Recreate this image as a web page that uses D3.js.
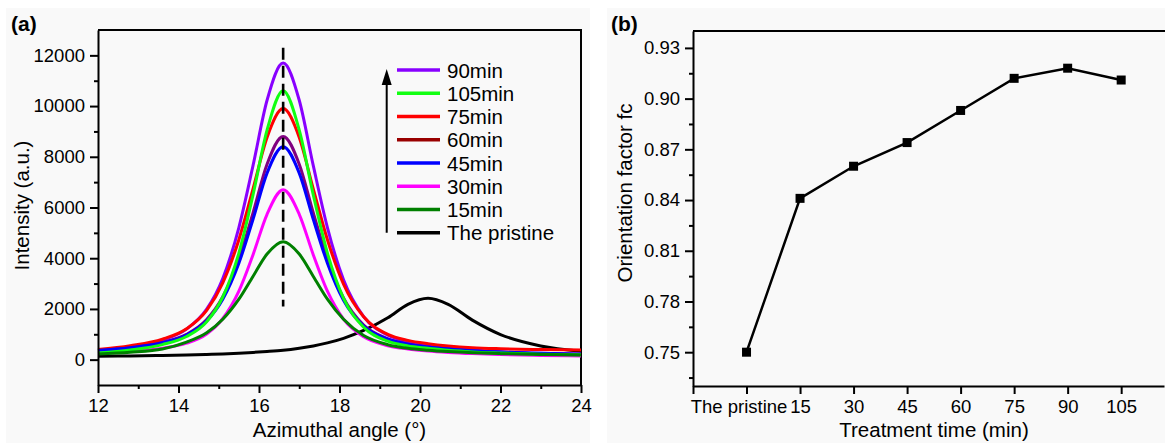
<!DOCTYPE html>
<html>
  <head>
    <meta charset="utf-8">
    <title>Azimuthal intensity and orientation factor</title>
    <script src="https://cdn.jsdelivr.net/npm/d3@7"></script>
    <style>
      body { margin: 0; background: #fff; }
      svg { display: block; font-family: "Liberation Sans", Arial, sans-serif; }
      .axis path, .axis line { stroke: #000; stroke-width: 2; }
      .axis text { font-size: 18.5px; fill: #000; font-family: "Liberation Sans", Arial, sans-serif; }
      .title { font-size: 20.5px; }
      .panelLabel { font-size: 21px; font-weight: bold; }
      .legend text { font-size: 20.5px; }
    </style>
  </head>
  <body>
    <svg id="chart" width="1165" height="443"></svg>

    <script>
      // panel (a) data: azimuthal angle (deg) vs intensity (a.u.)
      const angle = [12, 12.8, 13.6, 14.2, 14.7, 15.1, 15.5, 15.85, 16.2, 16.6, 17.0, 17.35, 17.7, 18.1, 18.6, 19.2, 19.7, 20.2, 20.7, 21.3, 22, 23, 24];
      const i90 = [344, 493, 772, 1205, 1990, 3200, 5210, 7640, 10230, 11700, 10230, 7640, 5210, 3150, 1700, 960, 700, 560, 460, 380, 310, 250, 220];
      const i105 = [265, 382, 593, 912, 1495, 2470, 4200, 6490, 9050, 10600, 9050, 6490, 4200, 2420, 1280, 730, 540, 450, 370, 305, 260, 210, 190];
      const i75 = [400, 552, 806, 1217, 1942, 3030, 4730, 6725, 8763, 9900, 8763, 6725, 4730, 2980, 1690, 1000, 760, 630, 540, 470, 430, 400, 380];
      const i60 = [356, 466, 674, 996, 1579, 2479, 3972, 5781, 7704, 8800, 7704, 5781, 3972, 2430, 1360, 820, 615, 500, 418, 344, 288, 235, 201];
      const i45 = [363, 469, 666, 973, 1528, 2385, 3805, 5527, 7357, 8400, 7357, 5527, 3805, 2340, 1320, 805, 610, 500, 422, 353, 299, 248, 216];
      const i30 = [246, 318, 450, 649, 1013, 1622, 2702, 4131, 5733, 6700, 5733, 4131, 2702, 1600, 900, 550, 420, 340, 286, 239, 201, 167, 146];
      const i15 = [220, 290, 420, 691, 1058, 1592, 2385, 3282, 4165, 4650, 4165, 3282, 2385, 1592, 950, 590, 445, 370, 318, 274, 237, 204, 183];
      const iPristine = [130, 145, 165, 185, 205, 225, 255, 285, 320, 370, 450, 540, 660, 840, 1150, 1650, 2180, 2420, 2180, 1560, 990, 540, 330];

      const seriesNames = ["90min", "105min", "75min", "60min", "45min", "30min", "15min", "The pristine"];
      const seriesValues = [i90, i105, i75, i60, i45, i30, i15, iPristine];
      const curveColors = ["#8800ff", "#11ff11", "#ff0000", "#800080", "#0000ff", "#ff00ff", "#008000", "#000000"];
      const legendColors = ["#8800ff", "#11ff11", "#ff0000", "#990000", "#0000ff", "#ff00ff", "#008000", "#000000"];

      const peakAngle = 16.6;
      const peakMarker = [2100, 12300];
      const angleTicks = [12, 14, 16, 18, 20, 22, 24];
      const intensityTicks = [0, 2000, 4000, 6000, 8000, 10000, 12000];

      // panel (b) data: treatment time vs orientation factor
      const timeLabels = ["The pristine", "15", "30", "45", "60", "75", "90", "105"];
      const fc = [0.750, 0.841, 0.860, 0.874, 0.893, 0.912, 0.918, 0.911];
      const fcTicks = [0.75, 0.78, 0.81, 0.84, 0.87, 0.90, 0.93];

      // elements
      chart = d3.select("#chart");

      // panel backgrounds
      chart.append("rect").attr("x", 6).attr("y", 8).attr("width", 584).attr("height", 435).attr("fill", "#f9f9f9");
      chart.append("rect").attr("x", 607).attr("y", 8).attr("width", 558).attr("height", 435).attr("fill", "#f9f9f9");

      // ---------- panel (a) ----------
      scaleX = d3.scaleLinear().domain([12, 24]).range([98, 581]);
      scaleY = d3.scaleLinear().domain([-1000, 13000]).range([385, 30]);

      groupA = chart.append("g");

      // frame (top and right)
      groupA.append("path")
        .attr("d", "M" + scaleX(12) + "," + scaleY(13000) + "H" + scaleX(24) + "V" + scaleY(-1000))
        .attr("fill", "none")
        .attr("stroke", "#000")
        .attr("stroke-width", 2);

      // curves
      line = d3.line()
        .x((d, i) => scaleX(angle[i]))
        .y(d => scaleY(d))
        .curve(d3.curveMonotoneX);

      drawOrder = [7, 0, 2, 3, 4, 5, 1, 6];
      groupA.selectAll(".curve")
          .data(drawOrder)
        .enter().append("path")
          .classed("curve", true)
          .attr("d", k => line(seriesValues[k]))
          .attr("fill", "none")
          .attr("stroke", k => curveColors[k])
          .attr("stroke-width", 3)
          .attr("stroke-linejoin", "round");

      // dashed peak marker
      groupA.append("line")
        .attr("x1", scaleX(peakAngle))
        .attr("x2", scaleX(peakAngle))
        .attr("y1", scaleY(peakMarker[1]))
        .attr("y2", scaleY(peakMarker[0]))
        .attr("stroke", "#000")
        .attr("stroke-width", 2.6)
        .attr("stroke-dasharray", "12,6");

      // axes
      axisXA = d3.axisBottom(scaleX).tickValues(angleTicks).tickSize(8).tickSizeOuter(0).tickPadding(6);
      axisXAMinor = d3.axisBottom(scaleX).tickValues(d3.range(13, 24, 2)).tickSize(4).tickFormat("");
      axisYA = d3.axisLeft(scaleY).tickValues(intensityTicks).tickSize(8).tickSizeOuter(0).tickPadding(5).tickFormat(d3.format("d"));
      axisYAMinor = d3.axisLeft(scaleY).tickValues(d3.range(1000, 12000, 2000)).tickSize(4).tickFormat("");

      groupA.append("g").attr("class", "axis").attr("transform", "translate(0," + scaleY(-1000) + ")").call(axisXAMinor)
        .select(".domain").remove();
      groupA.append("g").attr("class", "axis").attr("transform", "translate(0," + scaleY(-1000) + ")").call(axisXA);
      groupA.append("g").attr("class", "axis").attr("transform", "translate(" + scaleX(12) + ",0)").call(axisYAMinor)
        .select(".domain").remove();
      groupA.append("g").attr("class", "axis").attr("transform", "translate(" + scaleX(12) + ",0)").call(axisYA);

      // titles
      groupA.append("text")
        .attr("class", "title")
        .attr("x", (scaleX(12) + scaleX(24)) / 2)
        .attr("y", 437)
        .attr("text-anchor", "middle")
        .text("Azimuthal angle (\u00b0)");
      groupA.append("text")
        .attr("class", "title")
        .attr("transform", "translate(29," + ((scaleY(-1000) + scaleY(13000)) / 2 - 2) + ") rotate(-90)")
        .attr("text-anchor", "middle")
        .text("Intensity (a.u.)");
      groupA.append("text")
        .attr("class", "panelLabel")
        .attr("x", 11)
        .attr("y", 31)
        .text("(a)");

      // legend
      legendTop = 70;
      legendStep = 23.25;
      legend = groupA.append("g").attr("class", "legend");
      rows = legend.selectAll(".row")
          .data(seriesNames)
        .enter().append("g")
          .attr("class", "row")
          .attr("transform", (d, i) => "translate(0," + (legendTop + i * legendStep) + ")");
      rows.append("line")
        .attr("x1", 397)
        .attr("x2", 440)
        .attr("stroke", (d, i) => legendColors[i])
        .attr("stroke-width", 3.5);
      rows.append("text")
        .attr("x", 447)
        .attr("y", 7.5)
        .text(d => d);

      // arrow next to legend
      arrowX = 386.7;
      arrowBottom = legendTop + (seriesNames.length - 1) * legendStep;
      legend.append("line")
        .attr("x1", arrowX).attr("x2", arrowX)
        .attr("y1", arrowBottom).attr("y2", legendTop + 10)
        .attr("stroke", "#000")
        .attr("stroke-width", 2);
      legend.append("path")
        .attr("d", "M" + arrowX + "," + (legendTop - 1) + "L" + (arrowX - 5) + "," + (legendTop + 15) + "L" + (arrowX + 5) + "," + (legendTop + 15) + "Z")
        .attr("fill", "#000");

      // ---------- panel (b) ----------
      scaleXB = d3.scaleLinear().domain([-1, 7.8]).range([693, 1164]);
      scaleYB = d3.scaleLinear().domain([0.73, 0.94]).range([386, 31]);

      groupB = chart.append("g");

      groupB.append("line")
        .attr("x1", scaleXB(-1)).attr("x2", 1165)
        .attr("y1", scaleYB(0.94)).attr("y2", scaleYB(0.94))
        .attr("stroke", "#000")
        .attr("stroke-width", 2);

      axisXB = d3.axisBottom(scaleXB)
        .tickValues(d3.range(-1, 8))
        .tickSize(8)
        .tickSizeOuter(0)
        .tickPadding(6)
        .tickFormat(i => i >= 0 ? timeLabels[i] : "");
      axisYB = d3.axisLeft(scaleYB).tickValues(fcTicks).tickSize(8).tickSizeOuter(0).tickPadding(5).tickFormat(d3.format(".2f"));
      axisYBMinor = d3.axisLeft(scaleYB).tickValues(d3.range(0.735, 0.93, 0.03)).tickSize(4).tickFormat("");

      xAxisB = groupB.append("g").attr("class", "axis").attr("transform", "translate(0," + scaleYB(0.73) + ")").call(axisXB);
      xAxisB.selectAll(".tick text").filter(i => i === 0).attr("dx", -8);
      groupB.append("g").attr("class", "axis").attr("transform", "translate(" + scaleXB(-1) + ",0)").call(axisYBMinor)
        .select(".domain").remove();
      groupB.append("g").attr("class", "axis").attr("transform", "translate(" + scaleXB(-1) + ",0)").call(axisYB);

      // line and markers
      fcLine = d3.line()
        .x((d, i) => scaleXB(i))
        .y(d => scaleYB(d));
      groupB.append("path")
        .datum(fc)
        .attr("d", fcLine)
        .attr("fill", "none")
        .attr("stroke", "#000")
        .attr("stroke-width", 2.5);
      groupB.selectAll(".marker")
          .data(fc)
        .enter().append("rect")
          .attr("class", "marker")
          .attr("x", (d, i) => scaleXB(i) - 4.5)
          .attr("y", d => scaleYB(d) - 4.5)
          .attr("width", 9)
          .attr("height", 9)
          .attr("fill", "#000");

      // titles
      groupB.append("text")
        .attr("class", "title")
        .attr("x", 934)
        .attr("y", 437)
        .attr("text-anchor", "middle")
        .text("Treatment time (min)");
      groupB.append("text")
        .attr("class", "title")
        .attr("transform", "translate(632,193) rotate(-90)")
        .attr("text-anchor", "middle")
        .text("Orientation factor fc");
      groupB.append("text")
        .attr("class", "panelLabel")
        .attr("x", 611)
        .attr("y", 31)
        .text("(b)");
    </script>
  </body>
</html>
